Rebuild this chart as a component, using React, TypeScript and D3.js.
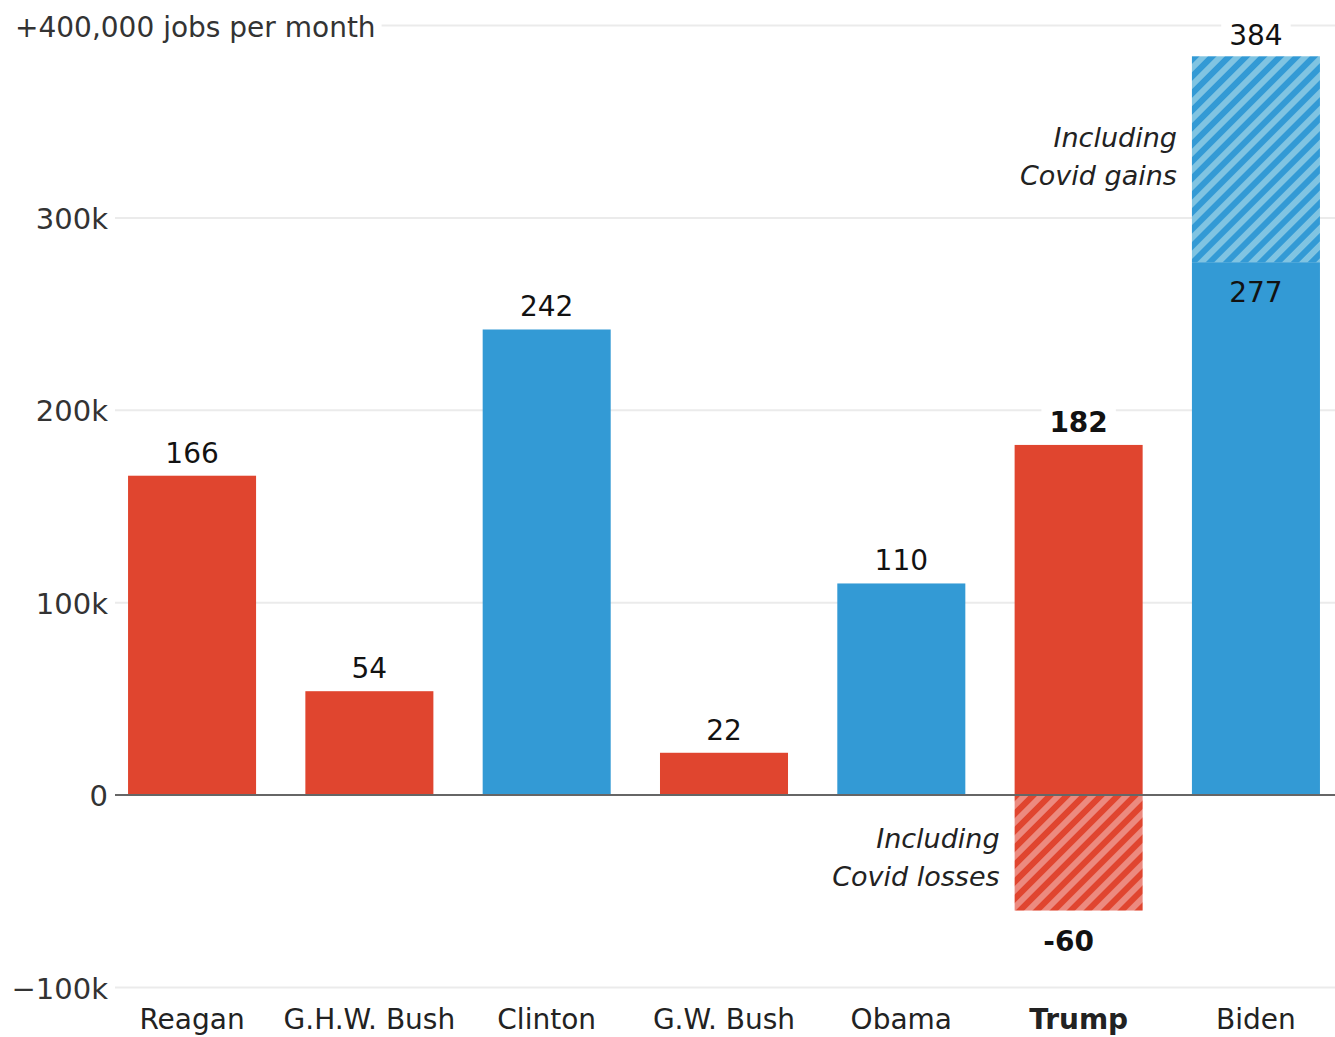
import React, { useEffect, useRef } from "react";
import * as d3 from "d3";

// Average monthly job growth by president (thousands)
const presidents = ["Reagan", "G.H.W. Bush", "Clinton", "G.W. Bush", "Obama", "Trump", "Biden"];
const parties = ["R", "R", "D", "R", "D", "R", "D"];
const jobsExCovid = [166, 54, 242, 22, 110, 182, 277];
const jobsWithCovid: (number | null)[] = [null, null, null, null, null, -60, 384];
const yTicks = [-100, 0, 100, 200, 300, 400];
const yTickLabels = ["\u2212100k", "0", "100k", "200k", "300k", "+400,000 jobs per month"];
const highlight = "Trump";

// Annotation text next to the hatched parts
const notes = [
  { president: "Biden", value: 337, lines: ["Including", "Covid gains"] },
  { president: "Trump", value: -27.5, lines: ["Including", "Covid losses"] },
];

const W = 1335;
const H = 1037;
const FONT = "'DejaVu Sans', sans-serif";

export default function App() {
  const svgRef = useRef<SVGSVGElement>(null);

  useEffect(() => {
    const svg = d3.select(svgRef.current).attr("width", W).attr("height", H);
    svg.selectAll("*").remove();

    const color = d3.scaleOrdinal<string>().domain(["R", "D"]).range(["#e0452f", "#339ad5"]);
    const lightColor = d3.scaleOrdinal<string>().domain(["R", "D"]).range(["#ec8a7f", "#80c4e2"]);

    const x = d3
      .scaleBand<string>()
      .domain(presidents)
      .range([103.4, 1344.6])
      .paddingInner(0.278)
      .paddingOuter(0.139);

    const y = d3.scaleLinear().domain([-100, 400]).range([987.5, 25.5]);

    // hatch patterns
    const defs = svg.append("defs");
    const hatch = 12;
    ["R", "D"].forEach((p) => {
      const pat = defs
        .append("pattern")
        .attr("id", `hatch-${p}`)
        .attr("patternUnits", "userSpaceOnUse")
        .attr("width", hatch)
        .attr("height", hatch)
        .attr("patternTransform", "rotate(45)");
      pat.append("rect").attr("width", hatch).attr("height", hatch).attr("fill", color(p));
      pat.append("rect").attr("width", hatch / 2).attr("height", hatch).attr("fill", lightColor(p));
    });

    const gridX1 = 115;
    const gridX2 = W;

    // grid lines
    svg
      .append("g")
      .selectAll("line")
      .data(yTicks.filter((t) => t !== 0))
      .join("line")
      .attr("x1", gridX1)
      .attr("x2", gridX2)
      .attr("y1", (d) => y(d))
      .attr("y2", (d) => y(d))
      .attr("stroke", "#ebebeb")
      .attr("stroke-width", 2);

    // tick labels
    const tickG = svg.append("g");
    yTicks.forEach((t, i) => {
      const isTop = i === yTicks.length - 1;
      const txt = tickG
        .append("text")
        .attr("x", isTop ? 15 : 108)
        .attr("y", y(t) + 11)
        .attr("text-anchor", isTop ? "start" : "end")
        .style("font-family", FONT)
        .style("font-size", isTop ? "28px" : "29px")
        .attr("fill", "#333")
        .text(yTickLabels[i]);
      if (isTop) {
        const bb = (txt.node() as SVGTextElement).getBBox();
        tickG
          .insert("rect", "text")
          .attr("x", bb.x - 4)
          .attr("y", bb.y)
          .attr("width", bb.width + 10)
          .attr("height", bb.height)
          .attr("fill", "#fff");
      }
    });

    // solid bars
    const bars = svg.append("g");
    presidents.forEach((p, i) => {
      const v = jobsExCovid[i];
      bars
        .append("rect")
        .attr("x", x(p)!)
        .attr("width", x.bandwidth())
        .attr("y", y(Math.max(0, v)))
        .attr("height", Math.abs(y(v) - y(0)))
        .attr("fill", color(parties[i]));

      const c = jobsWithCovid[i];
      if (c !== null) {
        const lo = c > v ? v : 0;
        bars
          .append("rect")
          .attr("x", x(p)!)
          .attr("width", x.bandwidth())
          .attr("y", y(Math.max(lo, c)))
          .attr("height", Math.abs(y(c) - y(lo)))
          .attr("fill", `url(#hatch-${parties[i]})`);
      }
    });

    // zero line
    svg
      .append("line")
      .attr("x1", gridX1)
      .attr("x2", gridX2)
      .attr("y1", y(0))
      .attr("y2", y(0))
      .attr("stroke", "#666")
      .attr("stroke-width", 2);

    // value labels
    const labels = svg.append("g");
    const addLabel = (text: string, cx: number, yy: number, bold: boolean, knockout: boolean) => {
      const t = labels
        .append("text")
        .attr("x", cx)
        .attr("y", yy)
        .attr("text-anchor", "middle")
        .style("font-family", FONT)
        .style("font-size", "28px")
        .style("font-weight", bold ? "bold" : "normal")
        .attr("fill", "#121212")
        .text(text);
      if (knockout) {
        const bb = (t.node() as SVGTextElement).getBBox();
        labels
          .insert("rect", "text")
          .attr("x", bb.x - 8)
          .attr("y", bb.y)
          .attr("width", bb.width + 16)
          .attr("height", bb.height)
          .attr("fill", "#fff");
      }
    };

    presidents.forEach((p, i) => {
      const cx = x(p)! + x.bandwidth() / 2;
      const v = jobsExCovid[i];
      const c = jobsWithCovid[i];
      const bold = p === highlight;
      if (c !== null && c > v) {
        addLabel(String(v), cx, y(v) + 40, bold, false);
        addLabel(String(c), cx, y(c) - 11, bold, true);
      } else {
        addLabel(String(v), cx, y(v) - 13, bold, true);
        if (c !== null) addLabel(String(c), cx - 10, y(c) + 40, bold, false);
      }
    });

    // annotations
    notes.forEach((n) => {
      const t = svg
        .append("text")
        .attr("x", x(n.president)! - 15)
        .attr("y", y(n.value))
        .attr("text-anchor", "end")
        .style("font-family", FONT)
        .style("font-size", "27px")
        .style("font-style", "italic")
        .attr("fill", "#222");
      n.lines.forEach((line, j) => {
        t.append("tspan")
          .attr("x", x(n.president)! - 15)
          .attr("dy", j === 0 ? 0 : 38)
          .text(line);
      });
    });

    // category labels
    svg
      .append("g")
      .selectAll("text")
      .data(presidents)
      .join("text")
      .attr("x", (d) => x(d)! + x.bandwidth() / 2)
      .attr("y", 1029)
      .attr("text-anchor", "middle")
      .style("font-family", FONT)
      .style("font-size", "28px")
      .style("font-weight", (d) => (d === highlight ? "bold" : "normal"))
      .attr("fill", "#222")
      .text((d) => d);
  }, []);

  return <svg ref={svgRef} style={{ position: "absolute", left: 0, top: 0 }} />;
}
